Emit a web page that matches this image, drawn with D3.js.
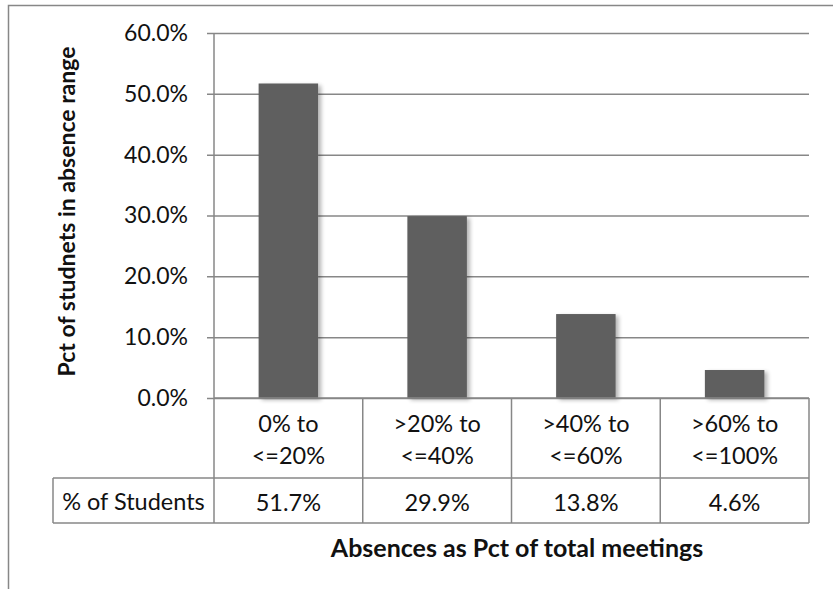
<!DOCTYPE html>
<html>
<head>
<meta charset="utf-8">
<script src="https://cdn.jsdelivr.net/npm/d3@7"></script>
<style>
  html, body { margin: 0; padding: 0; background: #fff; }
  svg { display: block; }
  text { font-family: Lato, "Open Sans", sans-serif; fill: #111; }
</style>
</head>
<body>
<svg id="chart" width="833" height="589"></svg>
<script>
// Share of students by absence range (absences as % of total meetings)
const categories = [["0% to", "<=20%"], [">20% to", "<=40%"], [">40% to", "<=60%"], [">60% to", "<=100%"]];
const categoryKeys = ["0-20", "20-40", "40-60", "60-100"];
const pctStudents = [0.517, 0.299, 0.138, 0.046];
const yTicks = [0, 0.1, 0.2, 0.3, 0.4, 0.5, 0.6];
const seriesName = "% of Students";
const yTitle = "Pct of studnets in absence range";
const xTitle = "Absences as Pct of total meetings";

const svg = d3.select("#chart");
const gridColor = "#878787";
const plot = { left: 214, right: 809, top: 33, bottom: 398 };
const table = { left: 53, rowSplit: 478, bottom: 523 };
const bodySize = 23.5;

// Soft drop shadow for the bars
const defs = svg.append("defs");
const f = defs.append("filter").attr("id", "shadow")
  .attr("x", "-20%").attr("y", "-20%").attr("width", "150%").attr("height", "150%");
f.append("feGaussianBlur").attr("in", "SourceAlpha").attr("stdDeviation", 2).attr("result", "b");
f.append("feOffset").attr("in", "b").attr("dx", 3).attr("dy", 2).attr("result", "o");
f.append("feComponentTransfer").attr("in", "o").attr("result", "s")
  .append("feFuncA").attr("type", "linear").attr("slope", 0.3);
const m = f.append("feMerge");
m.append("feMergeNode").attr("in", "s");
m.append("feMergeNode").attr("in", "SourceGraphic");

// Outer chart frame
svg.append("rect")
  .attr("x", 8.5).attr("y", 5.5).attr("width", 900).attr("height", 700)
  .attr("fill", "none").attr("stroke", gridColor).attr("stroke-width", 1.5);

const x = d3.scaleBand()
  .domain(categoryKeys)
  .range([plot.left, plot.right])
  .paddingInner(0.6)
  .paddingOuter(0.3);

const y = d3.scaleLinear().domain([0, 0.6]).range([plot.bottom, plot.top]);

// Y axis with gridlines
const yAxis = d3.axisLeft(y)
  .tickValues(yTicks)
  .tickFormat(d3.format(".1%"))
  .tickSize(-(plot.right - plot.left))
  .tickPadding(26);

const gy = svg.append("g")
  .attr("transform", `translate(${plot.left},0)`)
  .call(yAxis);
gy.select(".domain").remove();
gy.selectAll(".tick line")
  .attr("x1", -7)
  .attr("stroke", gridColor).attr("stroke-width", 1.5);
gy.selectAll(".tick text")
  .attr("font-size", 23)
  .attr("fill", "#111")
  .style("font-family", "Lato, sans-serif");

// Vertical axis line runs down through the category row of the table
svg.append("line")
  .attr("x1", plot.left).attr("x2", plot.left)
  .attr("y1", plot.top).attr("y2", table.bottom)
  .attr("stroke", gridColor).attr("stroke-width", 1.5);

// Bars
svg.append("g").selectAll("rect")
  .data(pctStudents)
  .join("rect")
  .attr("x", (d, i) => x(categoryKeys[i]))
  .attr("y", d => y(d))
  .attr("width", x.bandwidth())
  .attr("height", d => y(0) - y(d))
  .attr("fill", "#5f5f5f")
  .attr("filter", "url(#shadow)");

// Data table grid
const tg = svg.append("g").attr("stroke", gridColor).attr("stroke-width", 1.5).attr("fill", "none");
const edges = categoryKeys.map((k, i) => plot.left + i * x.step()).concat([plot.right]);
edges.slice(1).forEach(ex => {
  tg.append("line").attr("x1", ex).attr("x2", ex).attr("y1", plot.bottom).attr("y2", table.bottom);
});
tg.append("line").attr("x1", plot.left).attr("x2", plot.right).attr("y1", plot.bottom).attr("y2", plot.bottom);
tg.append("line").attr("x1", table.left).attr("x2", plot.right).attr("y1", table.rowSplit).attr("y2", table.rowSplit);
tg.append("line").attr("x1", table.left).attr("x2", plot.right).attr("y1", table.bottom).attr("y2", table.bottom);
tg.append("line").attr("x1", table.left).attr("x2", table.left).attr("y1", table.rowSplit).attr("y2", table.bottom);

// Category labels (two lines each)
const catG = svg.append("g").attr("text-anchor", "middle").attr("font-size", bodySize);
categories.forEach((lines, i) => {
  const cx = x(categoryKeys[i]) + x.bandwidth() / 2;
  lines.forEach((t, j) => {
    catG.append("text")
      .attr("x", cx).attr("y", 423 + j * 32)
      .attr("dominant-baseline", "central")
      .text(t);
  });
});

// Values row
svg.append("text")
  .attr("x", (table.left + plot.left) / 2).attr("y", 501)
  .attr("text-anchor", "middle").attr("dominant-baseline", "central")
  .attr("font-size", bodySize)
  .text(seriesName);

svg.append("g").selectAll("text")
  .data(pctStudents)
  .join("text")
  .attr("x", (d, i) => x(categoryKeys[i]) + x.bandwidth() / 2)
  .attr("y", 502)
  .attr("text-anchor", "middle").attr("dominant-baseline", "central")
  .attr("font-size", bodySize)
  .text(d => d3.format(".1%")(d));

// Axis titles
svg.append("text")
  .attr("transform", `translate(66,${(plot.top + plot.bottom) / 2 - 4}) rotate(-90)`)
  .attr("text-anchor", "middle").attr("dominant-baseline", "central")
  .attr("font-size", 23).attr("font-weight", "bold")
  .text(yTitle);

svg.append("text")
  .attr("x", 517).attr("y", 547)
  .attr("text-anchor", "middle").attr("dominant-baseline", "central")
  .attr("font-size", 25).attr("font-weight", "bold")
  .text(xTitle);
</script>
</body>
</html>
